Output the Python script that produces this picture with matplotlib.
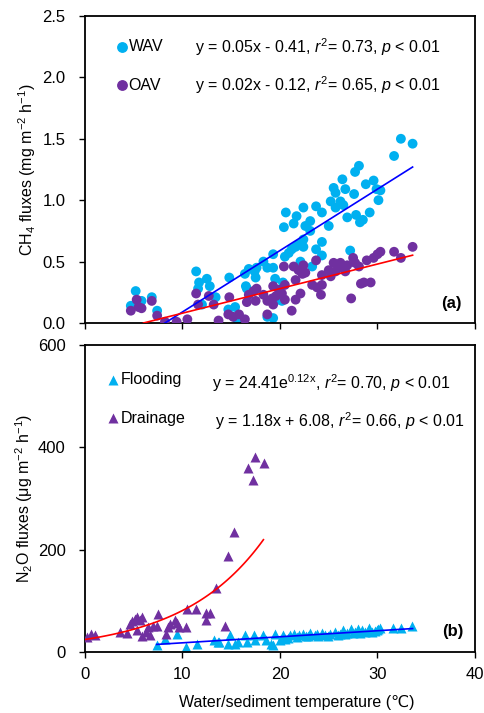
import numpy as np
import matplotlib
matplotlib.use('Agg')
import matplotlib.pyplot as plt

plt.rcParams['font.family'] = ['Liberation Sans', 'DejaVu Sans']
plt.rcParams['mathtext.fontset'] = 'custom'
plt.rcParams['mathtext.rm'] = 'Liberation Sans'
plt.rcParams['mathtext.it'] = 'Liberation Sans:italic'
plt.rcParams['mathtext.bf'] = 'Liberation Sans:bold'

# ---- (a) CH4 fluxes ----
wav_x = [4.7, 5.2, 5.8, 6.85, 7.4, 11.4, 11.6, 12.5, 12.8, 13.4, 14.8, 14.7, 15.4, 15.6,
         16.6, 16.4, 16.8, 17.4, 17.5, 17.6, 18.3, 18.7, 19.3, 19.3, 19.5, 18.7, 19.3,
         19.9, 20.2, 20.4, 20.6, 20.5, 20.9, 21.4, 21.7, 21.2, 21.6, 21.9, 22.1, 22.4,
         22.4, 22.4, 22.6, 23.1, 23.1, 23.3, 23.7, 23.7, 24.3, 24.3, 24.3, 25.0, 25.2,
         25.5, 25.7, 25.7, 26.2, 26.4, 26.5, 26.7, 26.9, 27.2, 27.6, 27.7, 28.1, 27.8,
         28.2, 28.5, 28.8, 29.2, 29.6, 29.9, 30.1, 30.3, 31.7, 32.4, 33.6, 11.7, 16.5,
         20.3, 12.0]
wav_y = [0.14, 0.26, 0.18, 0.21, 0.10, 0.42, 0.28, 0.36, 0.30, 0.21, 0.37, 0.11, 0.13, 0.03,
         0.28, 0.40, 0.44, 0.42, 0.37, 0.45, 0.50, 0.45, 0.56, 0.45, 0.36, 0.05, 0.04,
         0.19, 0.18, 0.78, 0.90, 0.54, 0.57, 0.81, 0.87, 0.60, 0.62, 0.64, 0.50, 0.94,
         0.62, 0.68, 0.79, 0.83, 0.75, 0.46, 0.95, 0.60, 0.90, 0.66, 0.55, 0.79, 0.99,
         1.10, 1.06, 0.94, 0.99, 1.17, 0.96, 1.09, 0.86, 0.59, 1.05, 1.23, 1.28, 0.88,
         0.82, 0.84, 1.13, 0.90, 1.16, 1.09, 1.00, 1.08, 1.36, 1.50, 1.46, 0.33, 0.30,
         0.33, 0.15]

oav_x = [4.7, 5.3, 5.5, 5.8, 6.85, 7.4, 8.2, 9.4, 10.5, 11.4, 11.6, 12.7, 13.2, 13.7,
         14.7, 14.8, 15.2, 15.8, 16.4, 16.6, 16.8, 17.3, 17.6, 17.5, 18.3, 18.7, 18.7,
         19.2, 19.3, 19.3, 19.6, 19.9, 20.2, 20.4, 20.5, 20.5, 21.2, 21.4, 21.6, 21.6,
         21.9, 22.1, 22.3, 22.4, 22.6, 23.3, 23.7, 23.8, 24.2, 24.3, 24.3, 25.0, 25.2,
         25.5, 25.7, 26.0, 26.2, 26.5, 26.7, 26.9, 27.3, 27.5, 27.7, 28.1, 28.3, 28.6,
         28.9, 29.3, 29.6, 30.0, 30.3, 31.7, 32.4, 33.6]
oav_y = [0.10, 0.19, 0.13, 0.12, 0.18, 0.06, 0.01, 0.01, 0.03, 0.24, 0.15, 0.22, 0.15, 0.02,
         0.07, 0.21, 0.05, 0.07, 0.03, 0.17, 0.23, 0.26, 0.28, 0.18, 0.23, 0.07, 0.18,
         0.20, 0.30, 0.15, 0.22, 0.27, 0.24, 0.46, 0.31, 0.19, 0.10, 0.46, 0.35, 0.19,
         0.43, 0.24, 0.40, 0.47, 0.41, 0.31, 0.51, 0.29, 0.23, 0.31, 0.39, 0.43, 0.38,
         0.49, 0.42, 0.45, 0.49, 0.46, 0.42, 0.47, 0.20, 0.53, 0.49, 0.46, 0.32, 0.33,
         0.51, 0.33, 0.53, 0.56, 0.58, 0.58, 0.53, 0.62]

wav_fit = (0.05, -0.41)
oav_fit = (0.02, -0.12)
wav_fit_range = (8.2, 33.6)
oav_fit_range = (6.0, 33.6)

# ---- (b) N2O fluxes ----
drain_x = [0.24, 0.58, 1.0, 3.6, 4.3, 4.6, 4.8, 5.1, 5.3, 5.6, 5.8, 5.3, 5.8, 6.3, 6.5,
           6.7, 7.0, 7.35, 7.5, 8.3, 8.5, 8.7, 9.2, 9.4, 9.6, 10.4, 10.5, 11.4, 12.4,
           12.4, 12.8, 13.4, 14.4, 14.7, 15.3, 16.75, 17.2, 17.4, 18.4]
drain_y = [29, 36, 33, 39, 37, 55, 61, 65, 68, 62, 68, 42, 31, 39, 49,
           33, 50, 50, 74, 35, 49, 55, 63, 57, 49, 48, 83, 83, 62,
           76, 76, 125, 51, 187, 235, 359, 336, 381, 370]

flood_x = [7.35, 8.2, 9.4, 10.4, 11.5, 13.2, 13.6, 13.7, 14.7, 14.9, 15.4, 15.7, 16.4,
           16.6, 17.3, 17.4, 18.3, 18.6, 19.1, 19.3, 19.5, 20.0, 20.3, 20.5, 21.0, 21.4,
           21.9, 22.4, 22.7, 23.1, 23.6, 23.8, 24.3, 24.6, 25.1, 25.6, 26.2, 26.5, 26.9,
           27.3, 27.7, 28.0, 28.4, 28.7, 29.1, 29.4, 29.9, 30.3, 31.6, 32.4, 33.5,
           20.8, 21.7, 22.9, 23.9, 24.9, 25.9, 26.7, 27.5, 28.2, 29.0, 29.7, 30.1]
flood_y = [13, 25, 36, 10, 16, 23, 20, 20, 16, 33, 16, 20, 33,
           20, 33, 23, 33, 23, 16, 13, 36, 23, 33, 26, 33, 36,
           33, 36, 31, 37, 33, 36, 37, 33, 36, 39, 36, 42, 37,
           44, 39, 44, 42, 39, 46, 39, 42, 47, 47, 47, 50,
           28, 30, 32, 31, 32, 34, 36, 38, 38, 40, 40, 44]

flood_fit = (1.18, 6.08)
drain_fit = (24.41, 0.12)
flood_fit_range = (7.35, 33.6)
drain_fit_range = (0.0, 18.3)

c_blue = '#00B0F0'
c_purple = '#7030A0'
fs = 11.5

fig = plt.figure(figsize=(4.84, 7.13), dpi=100)
ax1 = fig.add_axes([0.1756, 0.547, 0.8058, 0.4306])
ax2 = fig.add_axes([0.1756, 0.0856, 0.8058, 0.4306])

for ax in (ax1, ax2):
    for s in ax.spines.values():
        s.set_linewidth(1.3)
    ax.tick_params(direction='out', length=4, width=1, labelsize=12)
    ax.tick_params(axis='y', pad=10)
    ax.tick_params(axis='x', pad=7)
    ax.set_xlim(0, 40)
    ax.set_xticks([0, 10, 20, 30, 40])

# panel a
ax1.scatter(wav_x, wav_y, s=50, color=c_blue, edgecolors='none', zorder=2)
ax1.scatter(oav_x, oav_y, s=50, color=c_purple, edgecolors='none', zorder=3)
xs = np.linspace(*wav_fit_range, 50)
ax1.plot(xs, wav_fit[0] * xs + wav_fit[1], color='#0000FF', lw=1.2, zorder=4)
xs = np.linspace(*oav_fit_range, 50)
ax1.plot(xs, oav_fit[0] * xs + oav_fit[1], color='#FF0000', lw=1.2, zorder=4)
ax1.set_ylim(0, 2.5)
ax1.set_yticks([0, 0.5, 1.0, 1.5, 2.0, 2.5])
ax1.set_yticklabels(['0.0', '0.5', '1.0', '1.5', '2.0', '2.5'])
ax1.set_xticklabels([])
ax1.set_ylabel('CH$_4$ fluxes (mg m$^{-2}$ h$^{-1}$)', fontsize=fs)
ax1.yaxis.set_label_coords(-0.149, 0.5)
ax1.yaxis.label.set_va('center')

tf = ax1.transAxes
ax1.scatter([0.094], [0.90], s=46, color=c_blue, transform=tf, clip_on=False)
ax1.scatter([0.094], [0.775], s=46, color=c_purple, transform=tf, clip_on=False)
ax1.text(0.112, 0.90, 'WAV', transform=tf, fontsize=fs, va='center')
ax1.text(0.112, 0.775, 'OAV', transform=tf, fontsize=fs, va='center')
ax1.text(0.282, 0.90, r'y = 0.05x - 0.41, $\it{r}^{2}$= 0.73, $\it{p}$ < 0.01',
         transform=tf, fontsize=fs, va='center')
ax1.text(0.282, 0.775, r'y = 0.02x - 0.12, $\it{r}^{2}$= 0.65, $\it{p}$ < 0.01',
         transform=tf, fontsize=fs, va='center')
ax1.text(0.94, 0.064, '(a)', transform=tf, fontsize=12, fontweight='bold',
         ha='center', va='center')

# panel b
ax2.plot(flood_x, flood_y, linestyle='none', marker='^', ms=7, color=c_blue,
         mec='none', zorder=2)
ax2.plot(drain_x, drain_y, linestyle='none', marker='^', ms=7, color=c_purple,
         mec='none', zorder=3)
xs = np.linspace(*flood_fit_range, 50)
ax2.plot(xs, flood_fit[0] * xs + flood_fit[1], color='#0000FF', lw=1.2, zorder=4)
xs = np.linspace(*drain_fit_range, 100)
ax2.plot(xs, drain_fit[0] * np.exp(drain_fit[1] * xs), color='#FF0000', lw=1.2, zorder=4)
ax2.set_ylim(0, 600)
ax2.set_yticks([0, 200, 400, 600])
ax2.set_ylabel('N$_2$O fluxes (μg m$^{-2}$ h$^{-1}$)', fontsize=fs)
ax2.yaxis.set_label_coords(-0.157, 0.5)
ax2.yaxis.label.set_va('center')
ax2.set_xlabel('Water/sediment temperature (℃)', fontsize=fs)
ax2.xaxis.set_label_coords(0.544, -0.163)
ax2.xaxis.label.set_va('center')

tf = ax2.transAxes
ax2.plot([0.072], [0.886], marker='^', ms=7, color=c_blue, mec='none',
         transform=tf, clip_on=False)
ax2.plot([0.072], [0.762], marker='^', ms=7, color=c_purple, mec='none',
         transform=tf, clip_on=False)
ax2.text(0.092, 0.886, 'Flooding', transform=tf, fontsize=fs, va='center')
ax2.text(0.092, 0.762, 'Drainage', transform=tf, fontsize=fs, va='center')
ax2.text(0.326, 0.876, r'y = 24.41e$^{\mathrm{0.12x}}$, $\it{r}^{2}$= 0.70, $\it{p}$ < 0.01',
         transform=tf, fontsize=fs, va='center')
ax2.text(0.334, 0.752, r'y = 1.18x + 6.08, $\it{r}^{2}$= 0.66, $\it{p}$ < 0.01',
         transform=tf, fontsize=fs, va='center')
ax2.text(0.944, 0.066, '(b)', transform=tf, fontsize=12, fontweight='bold',
         ha='center', va='center')

fig.savefig('out.png', dpi=100, facecolor='white')
